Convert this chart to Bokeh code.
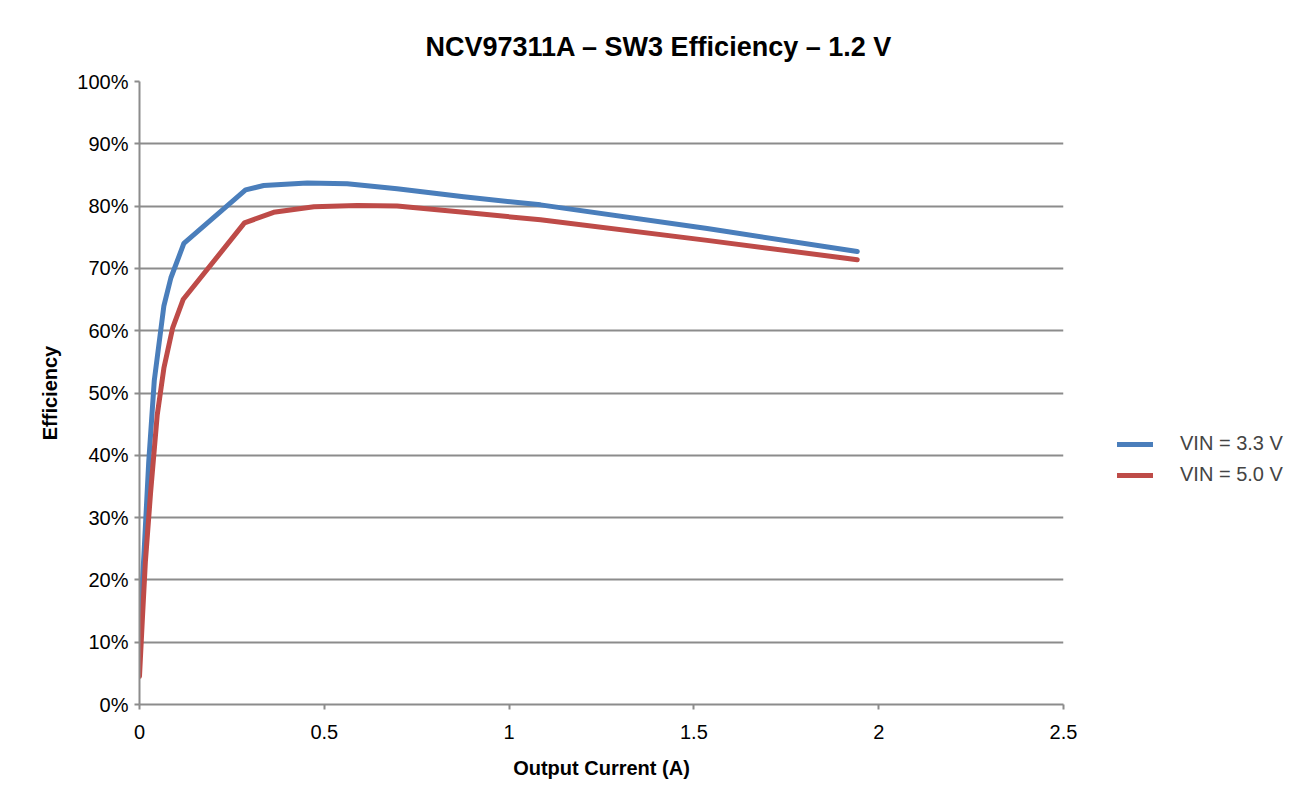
from bokeh.plotting import figure
from bokeh.layouts import row
from bokeh.models import Range1d, Legend, LegendItem, FixedTicker, CustomJSTickFormatter
from bokeh.embed import file_html
from bokeh.resources import INLINE

title_text = "NCV97311A \u2013 SW3 Efficiency \u2013 1.2 V"
x_label = "Output Current (A)"
y_label = "Efficiency"

x_ticks = [0, 0.5, 1, 1.5, 2, 2.5]
y_ticks = [0, 10, 20, 30, 40, 50, 60, 70, 80, 90, 100]

vin33_x = [0, 0.005, 0.012, 0.025, 0.04, 0.066, 0.085, 0.12, 0.287, 0.336, 0.454, 0.562, 0.697, 0.877, 1.085, 1.536, 1.942]
vin33_y = [9, 17, 24, 39, 52, 64, 68.5, 74, 82.6, 83.3, 83.7, 83.6, 82.8, 81.5, 80.2, 76.4, 72.7]

vin50_x = [0, 0.008, 0.016, 0.03, 0.048, 0.066, 0.09, 0.118, 0.284, 0.363, 0.472, 0.589, 0.697, 0.877, 1.085, 1.536, 1.942]
vin50_y = [4.5, 14, 23, 34, 46.5, 54, 60.5, 65, 77.3, 79.0, 79.9, 80.1, 80.0, 79.0, 77.8, 74.5, 71.4]

series_names = ["VIN = 3.3 V", "VIN = 5.0 V"]
colors = ["#4a7ebb", "#be4b48"]

FONT = "Liberation Sans"
H = 785
W_MAIN = 1083
W_LEG = 216

p = figure(width=W_MAIN, height=H, output_backend="svg", toolbar_location=None,
           x_range=Range1d(0, 2.5), y_range=Range1d(0, 100),
           min_border_left=139, min_border_right=20, min_border_top=81, min_border_bottom=81,
           title=title_text)
p.title.text_font = FONT
p.title.text_font_size = "27px"
p.title.text_font_style = "bold"
p.title.text_color = "black"
p.title.align = "left"
p.title.offset = 286
p.title.standoff = 40
p.background_fill_color = "white"
p.border_fill_color = "white"
p.outline_line_color = None

p.xgrid.grid_line_color = None
p.ygrid.grid_line_color = "#8c8c8c"
p.ygrid.grid_line_width = 2
p.ygrid.ticker = FixedTicker(ticks=y_ticks)

p.xaxis.ticker = FixedTicker(ticks=x_ticks)
p.yaxis.ticker = FixedTicker(ticks=y_ticks)
p.xaxis.formatter = CustomJSTickFormatter(code="return String(tick);")
p.yaxis.formatter = CustomJSTickFormatter(code="return tick.toFixed(0) + '%';")
for ax in (p.xaxis, p.yaxis):
    ax.axis_line_color = "#8c8c8c"
    ax.axis_line_width = 2
    ax.major_tick_line_color = "#8c8c8c"
    ax.major_tick_line_width = 2
    ax.major_tick_out = 5
    ax.major_tick_in = 0
    ax.minor_tick_line_color = None
    ax.major_label_text_font = FONT
    ax.major_label_text_font_size = "20px"
    ax.major_label_text_color = "black"
    ax.axis_label_text_font = FONT
    ax.axis_label_text_font_size = "20px"
    ax.axis_label_text_font_style = "bold"
    ax.axis_label_text_color = "black"
p.xaxis.axis_label = x_label
p.yaxis.axis_label = y_label
p.xaxis.major_label_standoff = 15
p.yaxis.major_label_standoff = 6
p.xaxis.axis_label_standoff = 15
p.yaxis.axis_label_standoff = 13

p.line(vin33_x, vin33_y, line_color=colors[0], line_width=5, line_cap="round", line_join="round")
p.line(vin50_x, vin50_y, line_color=colors[1], line_width=5, line_cap="round", line_join="round")

# legend panel to the right of the chart
q = figure(width=W_LEG, height=H, output_backend="svg", toolbar_location=None,
           x_range=Range1d(0, 1), y_range=Range1d(0, 1),
           min_border_left=0, min_border_right=0, min_border_top=0, min_border_bottom=0)
q.axis.visible = False
q.grid.visible = False
q.outline_line_color = None
q.background_fill_color = "white"
q.border_fill_color = "white"
k1 = q.line([vin33_x[-1], vin33_x[-1]], [vin33_y[-1], vin33_y[-1]], line_color=colors[0], line_width=5, line_cap="round")
k2 = q.line([vin50_x[-1], vin50_x[-1]], [vin50_y[-1], vin50_y[-1]], line_color=colors[1], line_width=5, line_cap="round")

legend = Legend(items=[LegendItem(label=series_names[0], renderers=[k1]),
                       LegendItem(label=series_names[1], renderers=[k2])],
                location=(34, 218), orientation="vertical")
legend.background_fill_alpha = 0
legend.border_line_color = None
legend.label_text_font = FONT
legend.label_text_font_size = "20px"
legend.glyph_width = 36
legend.glyph_height = 22
legend.label_height = 22
legend.label_standoff = 27
legend.spacing = 8
legend.padding = 10
legend.margin = 0
q.add_layout(legend, "center")

layout = row(p, q)
open("out.html", "w").write(file_html(layout, INLINE))
